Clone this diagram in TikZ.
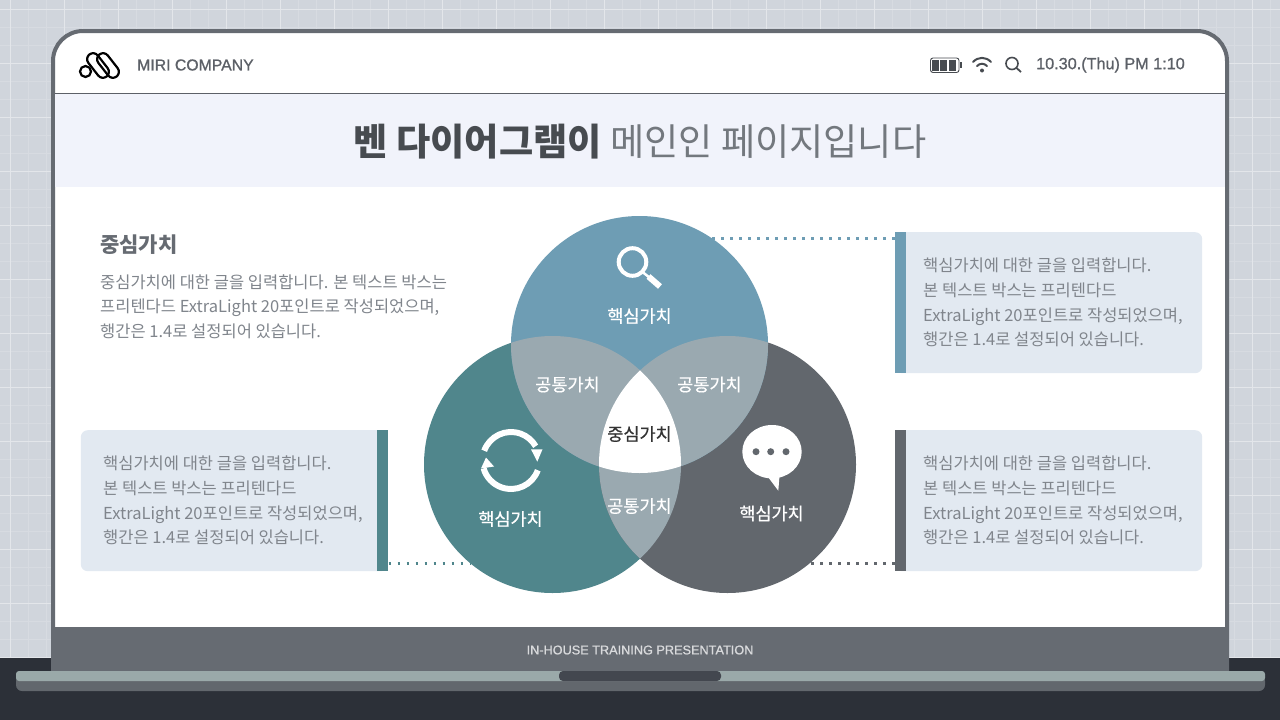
\documentclass[tikz,border=0pt]{standalone}
\usepackage{fontspec}
\setmainfont{Noto Sans CJK KR}
\newfontfamily\latinfont[FakeBold=1]{Liberation Sans}
\newfontfamily\medfont[FakeBold=0.45]{Noto Sans CJK KR}
\definecolor{paper}{HTML}{D0D5DC}
\definecolor{frame}{HTML}{666B72}
\definecolor{base}{HTML}{2C3038}
\definecolor{band}{HTML}{F1F3FB}
\definecolor{topblue}{HTML}{6E9DB4}
\definecolor{leftteal}{HTML}{50868C}
\definecolor{rightgray}{HTML}{62676D}
\definecolor{lens}{HTML}{9AA9B0}
\definecolor{deck}{HTML}{9AA9A9}
\definecolor{notch}{HTML}{43474F}
\definecolor{card}{HTML}{E2E9F1}
\definecolor{cardtext}{HTML}{80858C}
\tikzset{
  venn/.style={circle,minimum size=257pt,inner sep=0pt},
  cardbox/.style={rectangle,rounded corners=7pt,fill=card,minimum width=#1,minimum height=141pt,inner sep=0pt},
  cardbar/.style={rectangle,minimum width=11.5pt,minimum height=141pt,inner sep=0pt},
  cardlabel/.style={align=left,anchor=west,inner sep=0pt,font=\fontsize{16.5}{24.7}\selectfont,text=cardtext},
  vennlabel/.style={font=\medfont\fontsize{17.5}{20}\selectfont,text=white,inner sep=0pt},
  dotline/.style={line width=2.4pt,dash pattern=on 2.4pt off 6.6pt},
}
\begin{document}
\begin{tikzpicture}[x=1pt,y=-1pt]
  \useasboundingbox (0,0) rectangle (1280,720);
  \fill[paper] (0,0) rectangle (1280,720);
  \draw[white,opacity=.15,line width=1pt,xshift=10pt,yshift=-9pt,step=18pt] (-18,-18) grid (1300,720);
  \draw[white,opacity=.32,line width=1pt,xshift=10pt,yshift=-9pt,step=54pt] (-54,-54) grid (1300,720);

  % laptop
  \fill[base] (0,658) rectangle (1280,720);
  \draw[frame,line width=4pt,fill=white,rounded corners=30pt] (53,672) -- (53,31) -- (1227,31) -- (1227,672);
  \fill[band] (55,94) rectangle (1225,187);
  \draw[frame!90!black,line width=1.5pt] (55,93.5) -- (1225,93.5);
  \fill[frame] (51,627) rectangle (1229,672);
  \node (footer) at (640,650) {\fontsize{12.7}{15}\selectfont\color{white!75!frame}\latinfont IN-HOUSE TRAINING PRESENTATION};
  \fill[rightgray,rounded corners=6pt] (16,675) rectangle (1265,691);
  \fill[deck,rounded corners=3pt] (16,671) rectangle (1265,681);
  \fill[notch,rounded corners=4pt] (559,671) rectangle (721,681);

  % header
  \node[anchor=west,inner sep=0pt] (company) at (137,65) {\fontsize{15.8}{20}\selectfont\color{frame!90!black}\latinfont MIRI COMPANY};
  \node[anchor=west,inner sep=0pt] (clock) at (1036,65) {\fontsize{16.2}{20}\selectfont\color{frame!90!black}\latinfont 10.30.(Thu) PM 1:10};
  \begin{scope}[line width=2.2pt,black]
    \draw (85.5,71.5) circle (5.5);
    \draw[rotate around={-52:(98,65.5)},rounded corners=6pt] (84,59.5) rectangle (112,71.5);
    \draw[rotate around={-52:(108,65.5)},rounded corners=6pt] (94,59.5) rectangle (122,71.5);
  \end{scope}
  % battery
  \draw[frame!70!black,line width=.9pt,rounded corners=2.5pt] (930.5,58) rectangle (959,72.5);
  \fill[frame!70!black] (960,62) rectangle (961.5,68);
  \foreach \x in {932,940,948.5} \fill[frame!70!black] (\x,59.5) rectangle ++(7,11.5);
  % wifi
  \draw[frame!70!black,line width=2pt,line cap=round] (973,62) .. controls (978,56.5) and (986,56.5) .. (991,62);
  \draw[frame!70!black,line width=2pt,line cap=round] (977,66) .. controls (980,63) and (984,63) .. (987,66);
  \fill[frame!70!black] (982,70.5) circle (2);
  % search
  \draw[frame!70!black,line width=1.6pt] (1012,63.5) circle (6);
  \draw[frame!70!black,line width=1.8pt] (1016.3,67.8) -- (1021,72);

  % title
  \node (title) at (640,142) {\fontsize{37.2}{44}\selectfont\textbf{\color{frame!70!black}벤 다이어그램이} \color{cardtext!90!black}메인인 페이지입니다};

  % side text
  \node[anchor=west,inner sep=0pt] (sidehead) at (100,244.5) {\fontsize{21}{25}\selectfont\textbf{\color{frame}중심가치}};
  \node[cardlabel] (sidetext) at (100,306.7) {중심가치에 대한 글을 입력합니다. 본 텍스트 박스는\\프리텐다드 ExtraLight 20포인트로 작성되었으며,\\행간은 1.4로 설정되어 있습니다.};

  % dotted leaders
  \coordinate (dotA) at (712,238.5);
  \coordinate (dotB) at (470,563.5);
  \coordinate (dotC) at (808,563.5);

  % cards
  \node[cardbox=307pt,anchor=north west] (cardA) at (895,232) {};
  \node[cardbox=307pt,anchor=north west] (cardC) at (895,430) {};
  \node[cardbox=307pt,anchor=north east] (cardB) at (388,430) {};
  \node[cardbar,fill=topblue,anchor=north west] (barA) at (894.5,232) {};
  \node[cardbar,fill=rightgray,anchor=north west] (barC) at (894.5,430) {};
  \node[cardbar,fill=leftteal,anchor=north east] (barB) at (388.5,430) {};
  \node[cardlabel] (textA) at (923,302.7) {핵심가치에 대한 글을 입력합니다.\\본 텍스트 박스는 프리텐다드\\ExtraLight 20포인트로 작성되었으며,\\행간은 1.4로 설정되어 있습니다.};
  \node[cardlabel] (textC) at (923,500.7) {핵심가치에 대한 글을 입력합니다.\\본 텍스트 박스는 프리텐다드\\ExtraLight 20포인트로 작성되었으며,\\행간은 1.4로 설정되어 있습니다.};
  \node[cardlabel] (textB) at (103,500.7) {핵심가치에 대한 글을 입력합니다.\\본 텍스트 박스는 프리텐다드\\ExtraLight 20포인트로 작성되었으며,\\행간은 1.4로 설정되어 있습니다.};
  \draw[dotline,topblue] (barA.west |- dotA) -- (dotA);
  \draw[dotline,leftteal] (barB.east |- dotB) -- (dotB);
  \draw[dotline,rightgray] (barC.west |- dotC) -- (dotC);

  % venn
  \node[venn,fill=leftteal] (circB) at (552.5,464.5) {};
  \node[venn,fill=rightgray] (circC) at (727.5,464.5) {};
  \node[venn,fill=topblue] (circA) at (639.5,344.5) {};
  \begin{scope}
    \clip (552.5,464.5) circle (128.5);
    \fill[lens] (639.5,344.5) circle (128.5);
    \fill[lens] (727.5,464.5) circle (128.5);
  \end{scope}
  \begin{scope}
    \clip (727.5,464.5) circle (128.5);
    \fill[lens] (639.5,344.5) circle (128.5);
    \clip (552.5,464.5) circle (128.5);
    \fill[white] (639.5,344.5) circle (128.5);
  \end{scope}
  \node[vennlabel] (labelA) at (639.5,316) {핵심가치};
  \node[vennlabel] (labelB) at (510.5,519) {핵심가치};
  \node[vennlabel] (labelC) at (771.5,513.5) {핵심가치};
  \node[vennlabel] (labelAB) at (567.5,384.5) {공통가치};
  \node[vennlabel] (labelAC) at (709.5,384.5) {공통가치};
  \node[vennlabel] (labelBC) at (639.5,506) {공통가치};
  \node[vennlabel,text=black!80] (labelABC) at (639.5,434) {중심가치};

  % icons
  \draw[white,line width=4pt] (632.5,262) circle (13.8);
  \draw[white,line width=2.5pt] (642.5,272) -- (650,278);
  \draw[white,line width=6pt] (648.5,276.5) -- (660,286.5);
  \begin{scope}[white]
    \draw[line width=6pt] (511,460.5) ++(200:28.5) arc[start angle=200,end angle=330,radius=28.5];
    \draw[line width=6pt] (511,460.5) ++(20:28.5) arc[start angle=20,end angle=164,radius=28.5];
    \fill (531,449.3) -- (542.5,449.3) -- (537.3,461.7) -- cycle;
    \fill (481,468.5) -- (494,466.5) -- (486,457.5) -- cycle;
  \end{scope}
  \fill[white] (772,451.7) ellipse (29.7 and 26.7);
  \fill[white] (768,477) -- (778.3,490.7) -- (779.5,476) -- cycle;
  \foreach \x in {756,770.7,786} \fill[rightgray] (\x,451.7) circle (3.5);
\end{tikzpicture}
\end{document}
